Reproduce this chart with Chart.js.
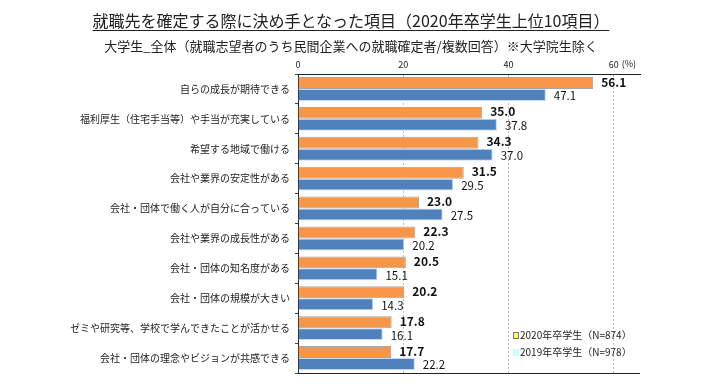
<!DOCTYPE html>
<html>
<head>
<meta charset="utf-8">
<script src="https://cdn.jsdelivr.net/npm/chart.js@4"></script>
<style>
  body { margin: 0; background: #fff; }
  #wrap { position: relative; width: 720px; height: 386px; }
  .ttl { position: absolute; left: 0; width: 702px; text-align: center; font-family: "Noto Sans CJK JP", sans-serif; color: #222; white-space: nowrap; }
  #title { top: 9px; font-size: 16px; line-height: 22px; text-decoration: underline; text-underline-offset: 3px; }
  #subtitle { top: 37px; font-size: 13px; line-height: 18px; }
</style>
</head>
<body>
<div id="wrap">
  <canvas id="chart" width="720" height="386"></canvas>
  <div class="ttl" id="title">就職先を確定する際に決め手となった項目（2020年卒学生上位10項目）</div>
  <div class="ttl" id="subtitle">大学生_全体（就職志望者のうち民間企業への就職確定者/複数回答）※大学院生除く</div>
</div>
<script>
const categories = [
    '自らの成長が期待できる',
    '福利厚生（住宅手当等）や手当が充実している',
    '希望する地域で働ける',
    '会社や業界の安定性がある',
    '会社・団体で働く人が自分に合っている',
    '会社や業界の成長性がある',
    '会社・団体の知名度がある',
    '会社・団体の規模が大きい',
    'ゼミや研究等、学校で学んできたことが活かせる',
    '会社・団体の理念やビジョンが共感できる'
];
const values2020 = [56.1, 35.0, 34.3, 31.5, 23.0, 22.3, 20.5, 20.2, 17.8, 17.7];
const values2019 = [47.1, 37.8, 37.0, 29.5, 27.5, 20.2, 15.1, 14.3, 16.1, 22.2];
const seriesNames = ['2020年卒学生（N=874）', '2019年卒学生（N=978）'];
const tickValues = [0, 20, 40, 60];
const unitLabel = '(%)';

const FONT = '"Noto Sans CJK JP", sans-serif';

// 値ラベル・凡例・下の枠線
const extras = {
    id: 'extras',
    afterDatasetsDraw(chart) {
        const c = chart.ctx;
        c.save();
        c.textBaseline = 'middle';
        c.textAlign = 'left';
        chart.data.datasets.forEach((ds, i) => {
            const meta = chart.getDatasetMeta(i);
            c.font = i === 0 ? 'bold 12px ' + FONT : '11.5px ' + FONT;
            c.fillStyle = '#111';
            meta.data.forEach((bar, j) => {
                c.fillText(ds.data[j].toFixed(1), bar.x + 8, bar.y + (i === 0 ? -1 : 1));
            });
        });
        c.restore();
    },
    afterDraw(chart) {
        const c = chart.ctx;
        const a = chart.chartArea;
        const x = chart.scales.x;
        c.save();
        // 下の枠線
        c.strokeStyle = '#222';
        c.lineWidth = 1;
        c.beginPath();
        c.moveTo(a.left, a.bottom + 0.5);
        c.lineTo(a.right, a.bottom + 0.5);
        c.stroke();
        // (%)
        c.font = '9px ' + FONT;
        c.fillStyle = '#222';
        c.textBaseline = 'middle';
        c.textAlign = 'left';
        c.fillText(unitLabel, x.getPixelForValue(60) + 8, a.top - 10);
        // 凡例
        const marks = [['#ffff66', '#777'], ['#ccffff', '#ccffff']];
        c.font = '10px ' + FONT;
        seriesNames.forEach((name, i) => {
            const ly = a.bottom - 38 + i * 17;
            const lx = a.right - 127;
            c.fillStyle = marks[i][0];
            c.strokeStyle = marks[i][1];
            c.fillRect(lx, ly - 3, 5, 6);
            c.strokeRect(lx + 0.5, ly - 2.5, 5, 6);
            c.fillStyle = '#222';
            c.fillText(name, lx + 7, ly);
        });
        c.restore();
    }
};

new Chart(document.getElementById('chart'), {
    type: 'bar',
    data: {
        labels: categories,
        datasets: [{
            label: seriesNames[0],
            data: values2020,
            backgroundColor: '#f79646',
            borderColor: '#a6a6a6',
            borderWidth: 1,
            categoryPercentage: 0.8,
            barPercentage: 1.0
        }, {
            label: seriesNames[1],
            data: values2019,
            backgroundColor: '#4f81bd',
            borderColor: '#c6d9f1',
            borderWidth: 1,
            categoryPercentage: 0.8,
            barPercentage: 1.0
        }]
    },
    options: {
        indexAxis: 'y',
        responsive: false,
        animation: false,
        layout: { padding: { top: 57, right: 80, bottom: 13, left: 0 } },
        plugins: {
            legend: { display: false },
            tooltip: { enabled: false }
        },
        scales: {
            x: {
                position: 'top',
                min: 0,
                max: 65,
                afterBuildTicks: scale => {
                    scale.ticks = tickValues.map(v => ({ value: v }));
                },
                afterFit: scale => { scale.height = 17; },
                ticks: {
                    font: { family: FONT, size: 9 },
                    color: '#222',
                    padding: 4
                },
                grid: {
                    color: ctx => (ctx.tick && ctx.tick.value === 0) ? 'rgba(0,0,0,0)' : '#bdbdbd',
                    drawTicks: false
                },
                border: { color: '#222', width: 1, dash: [2, 2] }
            },
            y: {
                afterFit: scale => { scale.width = 298; },
                ticks: {
                    font: { family: FONT, size: 10 },
                    color: '#222',
                    padding: 5,
                    autoSkip: false
                },
                grid: {
                    offset: true,
                    drawOnChartArea: false,
                    tickLength: 3,
                    color: '#444'
                },
                border: { color: '#222', width: 1 }
            }
        }
    },
    plugins: [extras]
});
</script>
</body>
</html>
